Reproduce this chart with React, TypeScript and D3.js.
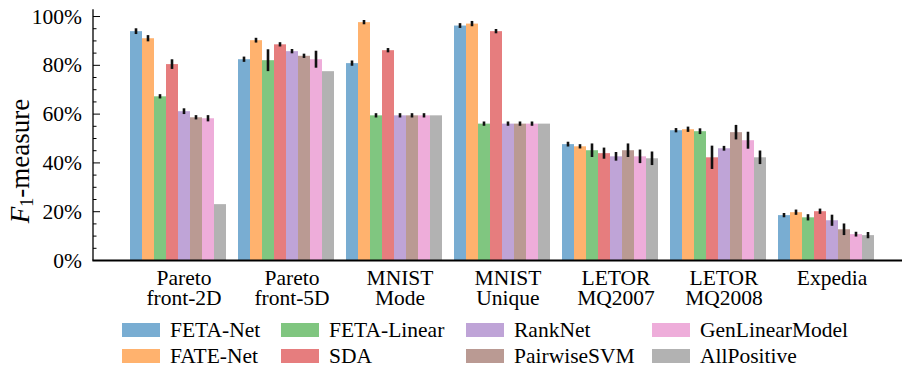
import React from "react";
import * as d3 from "d3";

// Datasets along the x axis, each a group of bars
const categories = [
  "Pareto\nfront-2D",
  "Pareto\nfront-5D",
  "MNIST\nMode",
  "MNIST\nUnique",
  "LETOR\nMQ2007",
  "LETOR\nMQ2008",
  "Expedia",
];

// Methods, in bar order within a group
const seriesNames = [
  "FETA-Net",
  "FATE-Net",
  "FETA-Linear",
  "SDA",
  "RankNet",
  "PairwiseSVM",
  "GenLinearModel",
  "AllPositive",
];

// Mean F1-measure (%) per method, one entry per dataset
const fetaNet = [94.0, 82.5, 80.9, 96.3, 47.7, 53.4, 18.6];
const fateNet = [91.1, 90.3, 97.7, 97.1, 46.8, 53.8, 19.8];
const fetaLinear = [67.3, 82.1, 59.5, 56.1, 45.2, 53.0, 17.7];
const sda = [80.5, 88.6, 86.2, 94.0, 44.0, 42.3, 20.2];
const rankNet = [61.2, 85.8, 59.5, 56.1, 42.7, 46.0, 16.5];
const pairwiseSvm = [58.7, 83.9, 59.5, 56.1, 45.2, 52.6, 12.8];
const genLinearModel = [58.3, 82.5, 59.5, 56.1, 42.7, 49.3, 10.8];
const allPositive = [23.1, 77.6, 59.5, 56.1, 41.9, 42.3, 10.4];

// Standard deviation (%) per method and dataset
const fetaNetErr = [0.4, 0.3, 0.3, 0.2, 0.2, 0.1, 0.1];
const fateNetErr = [0.5, 0.2, 0.1, 0.3, 0.1, 0.3, 0.3];
const fetaLinearErr = [0.1, 3.7, 0.1, 0.1, 2.0, 0.4, 0.5];
const sdaErr = [1.2, 0.1, 0.1, 0.1, 1.5, 4.0, 0.3];
const rankNetErr = [0.4, 0.1, 0.1, 0.1, 1.0, 0.2, 1.5];
const pairwiseSvmErr = [0.1, 0.1, 0.1, 0.1, 2.0, 2.2, 1.6];
const genLinearModelErr = [0.5, 2.7, 0.1, 0.1, 2.0, 2.7, 0.2];
const allPositiveErr = [0.0, 0.0, 0.0, 0.0, 2.0, 2.0, 0.5];

const seriesValues = [fetaNet, fateNet, fetaLinear, sda, rankNet, pairwiseSvm, genLinearModel, allPositive];
const seriesErrors = [
  fetaNetErr, fateNetErr, fetaLinearErr, sdaErr,
  rankNetErr, pairwiseSvmErr, genLinearModelErr, allPositiveErr,
];

// tab10 colours at 60% opacity over white
const seriesColors = [
  "#79add2", "#ffb26e", "#80c680", "#e67d7e",
  "#bfa4d7", "#ba9a93", "#eeadda", "#b2b2b2",
];

const yTicks = [0, 20, 40, 60, 80, 100];
const yMinorTicks = d3.range(0, 101, 5);

// legend is laid out column by column, two rows
const legendColumnX = [122, 281, 466, 652];
const legendRowY = [330, 356];

const FONT = "'Liberation Serif', 'DejaVu Serif', serif";
const FS = 21.5;

const W = 902;
const H = 366;
const axisLeft = 93;
const axisRight = 902;
const plotBottom = 260.5;
const plotTop = 9.2;

export default function App() {
  const y = d3.scaleLinear().domain([0, 103]).range([plotBottom, plotTop]);
  const x0 = d3.scaleBand<string>().domain(categories).range([124, 880]).padding(0);
  const x1 = d3.scaleBand<string>().domain(seriesNames).range([6, x0.bandwidth() - 6]).padding(0);
  const bw = x1.bandwidth();
  const labelOffset = (x1(seriesNames[4]) ?? 0) + bw / 2;

  return (
    <svg
      width={W}
      height={H}
      viewBox={`0 0 ${W} ${H}`}
      fontFamily={FONT}
      style={{ position: "absolute", left: 0, top: 0, background: "#fff" }}
    >
      <rect x={0} y={0} width={W} height={H} fill="#fff" />

      {/* bars */}
      {categories.map((cat, ci) => (
        <g key={cat} transform={`translate(${x0(cat)},0)`}>
          {seriesNames.map((s, si) => {
            const v = seriesValues[si][ci];
            return (
              <rect
                key={s}
                x={x1(s)}
                y={y(v)}
                width={bw}
                height={y(0) - y(v)}
                fill={seriesColors[si]}
              />
            );
          })}
        </g>
      ))}

      {/* error bars */}
      {categories.map((cat, ci) => (
        <g key={cat + "-err"} transform={`translate(${x0(cat)},0)`}>
          {seriesNames.map((s, si) => {
            const v = seriesValues[si][ci];
            const e = seriesErrors[si][ci];
            if (e <= 0) return null;
            const cx = (x1(s) ?? 0) + bw / 2;
            return (
              <line
                key={s}
                x1={cx}
                x2={cx}
                y1={y(v - e) + 0.6}
                y2={y(v + e) - 0.6}
                stroke="#111"
                strokeWidth={2.6}
                strokeLinecap="square"
              />
            );
          })}
        </g>
      ))}

      {/* y axis: spine, inward ticks, labels */}
      <line x1={axisLeft} x2={axisLeft} y1={plotTop} y2={plotBottom} stroke="#000" strokeWidth={1.3} />
      {yMinorTicks.map((t) => (
        <line
          key={"m" + t}
          x1={axisLeft}
          x2={axisLeft + (t % 20 === 0 ? 7 : 3.5)}
          y1={y(t)}
          y2={y(t)}
          stroke="#000"
          strokeWidth={1}
        />
      ))}
      {yTicks.map((t) => (
        <text key={"l" + t} x={82} y={y(t) + 7} textAnchor="end" fontSize={FS} fill="#000">
          {`${t}%`}
        </text>
      ))}

      {/* x axis spine */}
      <line x1={axisLeft - 0.6} x2={axisRight} y1={plotBottom} y2={plotBottom} stroke="#000" strokeWidth={1.8} />

      {/* category labels, one text per group with a tspan per line */}
      {categories.map((cat) => {
        const cx = (x0(cat) ?? 0) + labelOffset;
        return (
          <text key={cat} x={cx} y={285} textAnchor="middle" fontSize={FS} fill="#000">
            {cat.split("\n").map((line, li) => (
              <tspan key={li} x={cx} dy={li === 0 ? 0 : 20}>
                {line}
              </tspan>
            ))}
          </text>
        );
      })}

      {/* y axis title */}
      <g transform="translate(29,161) rotate(-90)">
        <text x={0} y={0} textAnchor="middle" fontSize={27} fill="#000">
          <tspan fontStyle="italic">F</tspan>
          <tspan fontSize={18} dy={4}>1</tspan>
          <tspan dy={-4}>-measure</tspan>
        </text>
      </g>

      {/* legend */}
      {seriesNames.map((s, si) => {
        const col = Math.floor(si / 2);
        const row = si % 2;
        const lx = legendColumnX[col];
        const ly = legendRowY[row];
        return (
          <g key={"lg" + s}>
            <rect x={lx} y={ly - 7} width={38} height={14} fill={seriesColors[si]} />
            <text x={lx + 48} y={ly + 6.5} fontSize={FS} fill="#000">
              {s}
            </text>
          </g>
        );
      })}
    </svg>
  );
}
